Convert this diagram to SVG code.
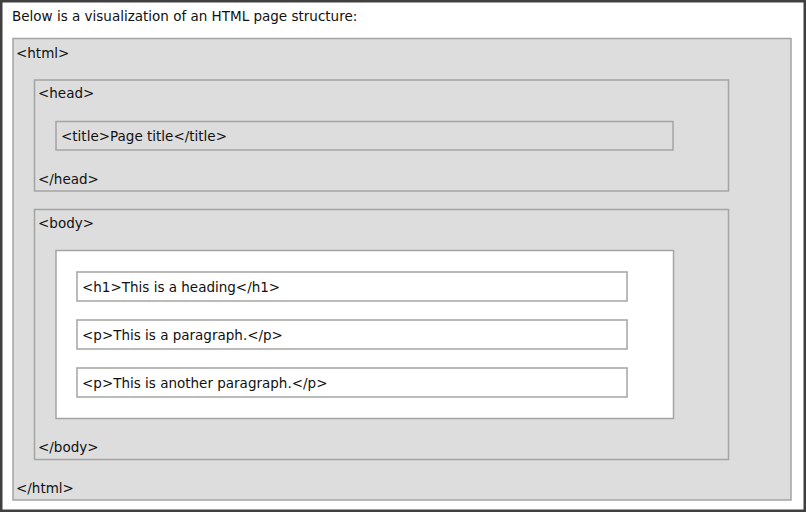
<svg xmlns="http://www.w3.org/2000/svg" width="806" height="512" viewBox="0 0 806 512">
<style>
  .frame { fill: #ffffff; stroke: #404040; stroke-width: 2.5; }
  .grey { fill: #dddddd; stroke: #a4a4a4; stroke-width: 1.5; }
  .white { fill: #ffffff; stroke: #a4a4a4; stroke-width: 1.5; }
  text { font-family: "DejaVu Sans", Verdana, sans-serif; font-size: 13.5px; fill: #111111; }
</style>
<rect class="frame" x="1.25" y="1.25" width="803.5" height="509.5"/>
<text x="12" y="21">Below is a visualization of an HTML page structure:</text>
<g id="html">
  <rect class="grey" x="13" y="38.5" width="778" height="461.5"/>
  <text x="16" y="58">&lt;html&gt;</text>
  <text x="16" y="493">&lt;/html&gt;</text>
</g>
<g id="head">
  <rect class="grey" x="34.5" y="80" width="694" height="111"/>
  <text x="38" y="98">&lt;head&gt;</text>
  <text x="38" y="184">&lt;/head&gt;</text>
</g>
<g id="title">
  <rect class="grey" x="56" y="121.5" width="617" height="28.5"/>
  <text x="61" y="141">&lt;title&gt;Page title&lt;/title&gt;</text>
</g>
<g id="body">
  <rect class="grey" x="34.5" y="209.5" width="694" height="250"/>
  <text x="38" y="228">&lt;body&gt;</text>
  <text x="38" y="452">&lt;/body&gt;</text>
</g>
<g id="content">
  <rect class="white" x="56" y="250.5" width="617.5" height="168"/>
</g>
<g id="h1">
  <rect class="white" x="77" y="272" width="550" height="29"/>
  <text x="82" y="292">&lt;h1&gt;This is a heading&lt;/h1&gt;</text>
</g>
<g id="p1">
  <rect class="white" x="77" y="320" width="550" height="29"/>
  <text x="82" y="340">&lt;p&gt;This is a paragraph.&lt;/p&gt;</text>
</g>
<g id="p2">
  <rect class="white" x="77" y="368" width="550" height="29"/>
  <text x="82" y="388">&lt;p&gt;This is another paragraph.&lt;/p&gt;</text>
</g>
<g id="connectors"/>
</svg>
